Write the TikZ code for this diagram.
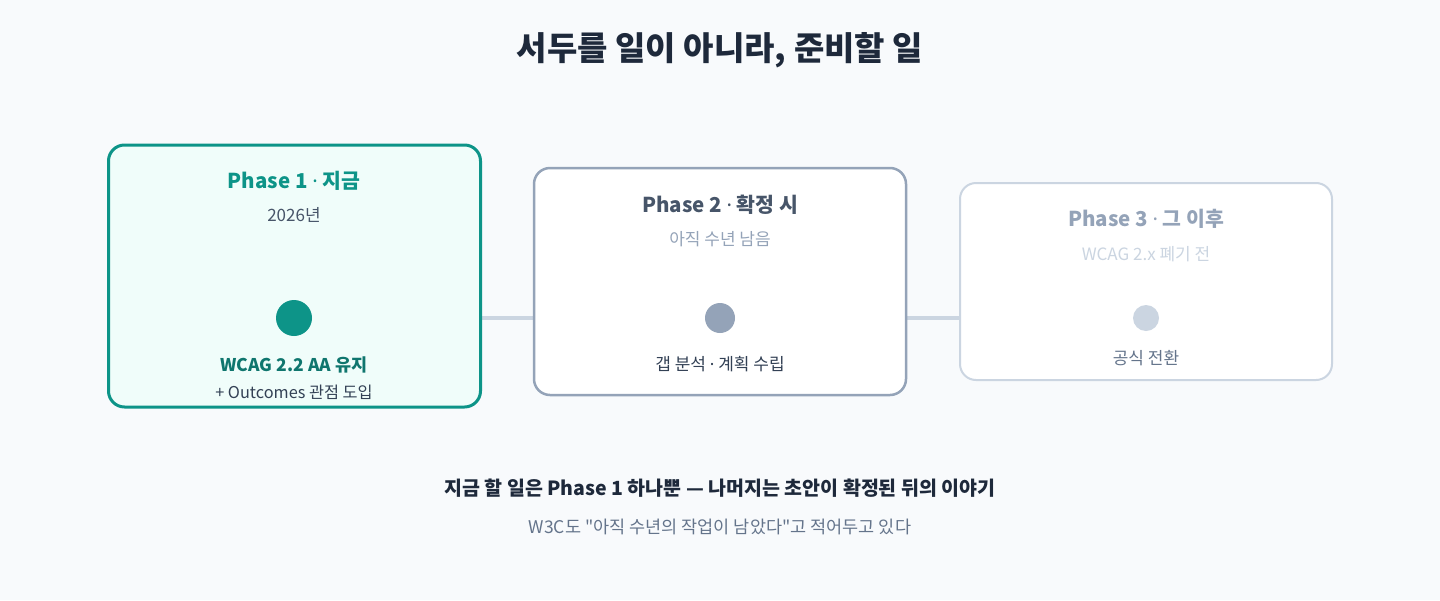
\documentclass[tikz,border=0pt]{standalone}
\usepackage{fontspec}
\setmainfont{Noto Sans CJK KR}[Ligatures=TeXOff]
\newfontfamily\latinfont{Noto Sans}
\usetikzlibrary{backgrounds}

\definecolor{pagebg}{HTML}{F8FAFC}
\definecolor{tealmain}{HTML}{0D9488}
\definecolor{tealdark}{HTML}{0F766E}
\definecolor{tealfill}{HTML}{F0FDFA}
\definecolor{slatemid}{HTML}{94A3B8}
\definecolor{slatelight}{HTML}{CBD5E1}
\definecolor{slatetext}{HTML}{475569}
\definecolor{slatedark}{HTML}{334155}
\definecolor{slategray}{HTML}{64748B}
\definecolor{inkdark}{HTML}{1E293B}

\newcommand{\mdot}{{\latinfont ·}}

\begin{document}
\begin{tikzpicture}[x=1pt, y=-1pt,
  phasebox/.style={draw, rounded corners=16pt, minimum width=372pt, inner sep=0pt},
  dot/.style={circle, inner sep=0pt},
  link/.style={draw=slatelight, line width=4pt},
  headtext/.style={font=\bfseries\fontsize{20.5}{24}\selectfont},
  smalltext/.style={font=\fontsize{17}{20}\selectfont},
  every node/.style={align=center}]

  \useasboundingbox (0,0) rectangle (1440,600);

  % title
  \node[font=\bfseries\fontsize{33}{38}\selectfont, text=inkdark] (title) at (720,50) {서두를 일이 아니라, 준비할 일};

  % phase 1
  \node[phasebox, draw=tealmain, fill=tealfill, line width=3pt, minimum height=262pt] (box1) at (294.5,276) {};
  \node[headtext, text=tealmain] (head1) at (294,181) {Phase 1 \mdot{} 지금};
  \node[smalltext, text=slatetext] (sub1) at (294,215) {2026년};
  \node[dot, fill=tealmain, minimum size=36pt] (dot1) at (294,318) {};
  \node[font=\bfseries\fontsize{17.5}{20}\selectfont, text=tealdark] (act1) at (294,365) {WCAG 2.2 AA 유지};
  \node[font=\fontsize{16.3}{19}\selectfont, text=slatedark] (note1) at (294,392) {+ Outcomes 관점 도입};

  % phase 2
  \node[phasebox, draw=slatemid, fill=white, line width=2.5pt, minimum height=227pt] (box2) at (720,281.5) {};
  \node[headtext, text=slatetext] (head2) at (720,205) {Phase 2 \mdot{} 확정 시};
  \node[smalltext, text=slatemid] (sub2) at (720,239) {아직 수년 남음};
  \node[dot, fill=slatemid, minimum size=30pt] (dot2) at (720,318) {};
  \node[smalltext, text=slatedark] (act2) at (720,364) {갭 분석 \mdot{} 계획 수립};

  % phase 3
  \node[phasebox, draw=slatelight, fill=white, line width=2pt, minimum height=197pt] (box3) at (1146,281.5) {};
  \node[headtext, text=slatemid] (head3) at (1146,219) {Phase 3 \mdot{} 그 이후};
  \node[smalltext, text=slatelight] (sub3) at (1146,254) {WCAG 2.x 폐기 전};
  \node[dot, fill=slatelight, minimum size=26pt] (dot3) at (1146,318) {};
  \node[smalltext, text=slategray] (act3) at (1146,358) {공식 전환};

  % links
  \begin{scope}[on background layer]
    \fill[pagebg] (0,0) rectangle (1440,600);
    \draw[link] (dot1 -| box1.east) -- (dot2 -| box2.west);
    \draw[link] (dot2 -| box2.east) -- (dot3 -| box3.west);
  \end{scope}

  % footer
  \node[font=\bfseries\fontsize{19.5}{23}\selectfont, text=inkdark] (foot1) at (720,488) {지금 할 일은 Phase 1 하나뿐 — 나머지는 초안이 확정된 뒤의 이야기};
  \node[font=\fontsize{17.5}{21}\selectfont, text=slategray] (foot2) at (720,527) {W3C도 "아직 수년의 작업이 남았다"고 적어두고 있다};
\end{tikzpicture}
\end{document}
